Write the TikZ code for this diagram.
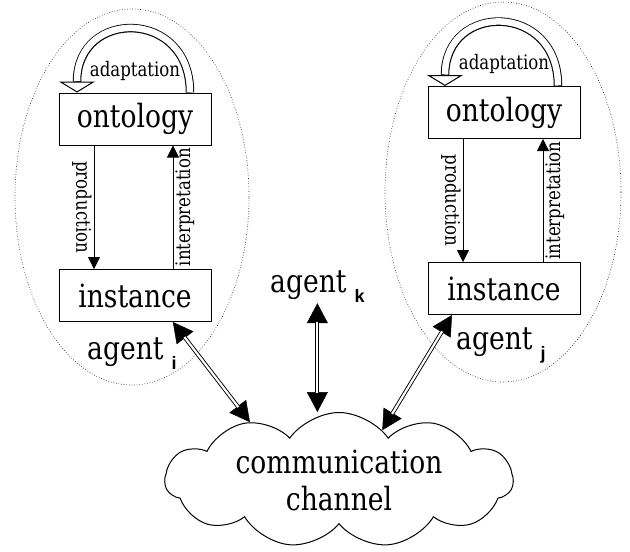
\documentclass[tikz,border=0pt]{standalone}
\usepackage{fontspec}
\setmainfont[FakeStretch=0.83]{DejaVu Serif}
\newfontfamily\idxfont{Liberation Sans}
\usepackage{tikz}
\usetikzlibrary{arrows.meta, positioning, shapes.symbols}
\newcommand{\bigtext}{\fontsize{32}{37}\selectfont}
\newcommand{\smalltext}{\fontsize{20}{22}\selectfont}
\newcommand{\agentidx}[1]{\hspace{8pt}\raisebox{-10pt}{\idxfont\bfseries\fontsize{18}{18}\selectfont #1}}
\tikzstyle{levelBox} = [draw, line width=1pt, minimum width=152pt, minimum height=52pt,
   inner sep=0pt, font=\bigtext]
\tikzstyle{agentArea} = [dotted, line width=0.6pt]
\tikzstyle{flowArrow} = [line width=0.8pt, -{Triangle[width=12pt,length=12pt]}]
\tikzstyle{flowLabel} = [font=\smalltext, inner sep=2pt]
% hollow arrow: thick black pass, then a white pass inside it
\tikzstyle{loopArrow} = [line width=8.5pt,
   -{Triangle[open,fill=white,width=36pt,length=11pt,line width=1pt]},
   postaction = {draw, white, line width=6.5pt, -, shorten <= 0.5pt, shorten >= 11.5pt}]
\tikzstyle{linkArrow} = [line width=4pt,
   {Triangle[width=21pt,length=20pt,line width=0.5pt]}-{Triangle[width=21pt,length=20pt,line width=0.5pt]},
   postaction = {draw, white, line width=2.2pt, -, shorten <= 19pt, shorten >= 19pt}]

\begin{document}
\begin{tikzpicture}[x=1pt, y=1pt]
  \useasboundingbox (0,0) rectangle (630,-552);

  % the two agents
  \draw[agentArea] (132,-197) ellipse [x radius=117pt, y radius=188pt];
  \draw[agentArea] (503,-192) ellipse [x radius=118pt, y radius=190pt];

  \node[levelBox] (ontoL) at (135,-119) {ontology};
  \node[levelBox, below of=ontoL, node distance=176.5pt] (instL) {instance};
  \node[levelBox] (ontoR) at (504,-112.5) {ontology};
  \node[levelBox, below of=ontoR, node distance=176pt] (instR) {instance};

  \node[flowLabel, above=10pt of ontoL] (adaptL) {adaptation};
  \node[flowLabel, above=10pt of ontoR] (adaptR) {adaptation};

  \node[font=\bigtext, anchor=base west, inner sep=1pt] (agentL) at (86,-359) {agent\agentidx{i}};
  \node[font=\bigtext, anchor=base west, inner sep=1pt] (agentR) at (455,-349) {agent\agentidx{j}};
  \node[font=\bigtext, anchor=base west, inner sep=1pt] (agentK) at (269,-292) {agent\agentidx{k}};

  \node[draw, cloud, cloud puffs=11, cloud puff arc=110, cloud ignores aspect,
        minimum width=348pt, minimum height=135pt, line width=1pt,
        align=center, font=\bigtext, inner sep=0pt] (channel) at (339,-480) {communication\\channel};

  % inside each agent
  \draw[flowArrow] ([xshift=-41pt]ontoL.south) -- node[flowLabel, rotate=-90, anchor=north] {production} ([xshift=-41pt]instL.north);
  \draw[flowArrow] ([xshift=38pt]instL.north) -- node[flowLabel, rotate=90, anchor=north] {interpretation} ([xshift=38pt]ontoL.south);
  \draw[flowArrow] ([xshift=-41pt]ontoR.south) -- node[flowLabel, rotate=-90, anchor=north] {production} ([xshift=-41pt]instR.north);
  \draw[flowArrow] ([xshift=39pt]instR.north) -- node[flowLabel, rotate=90, anchor=north] {interpretation} ([xshift=39pt]ontoR.south);

  \draw[loopArrow] ([xshift=55pt]ontoL.north) .. controls +(0,84) and +(0,84) .. ([xshift=-58pt]ontoL.north);
  \draw[loopArrow] ([xshift=54pt]ontoR.north) .. controls +(0,84) and +(0,84) .. ([xshift=-59pt]ontoR.north);

  % links to the channel
  \draw[linkArrow] (instL.325) -- (channel.147);
  \draw[linkArrow] (agentK.south) -- (agentK.south |- channel.north);
  \draw[linkArrow] (instR.207) -- (channel.49);
\end{tikzpicture}
\end{document}
